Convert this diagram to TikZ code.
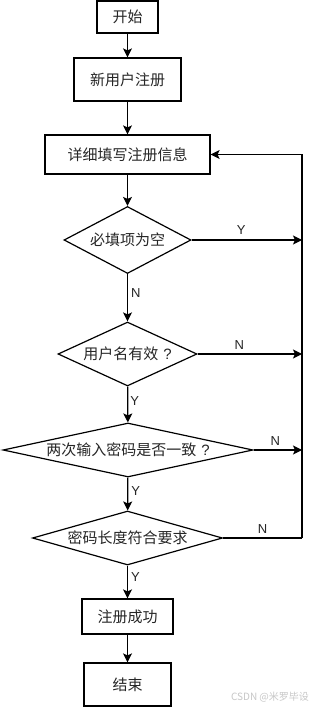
\documentclass[tikz,border=0pt]{standalone}
\usepackage{fontspec}
\newfontfamily\cjk{Noto Sans CJK SC}
\newfontfamily\lat{Liberation Sans}
\usetikzlibrary{shapes.geometric,arrows.meta}
\tikzset{
  proc/.style={draw, line width=1.2pt, rectangle, inner sep=0pt, font=\cjk\fontsize{15}{15}\selectfont, text=black!85},
  decide/.style={draw, line width=1.2pt, diamond, inner sep=0pt, font=\cjk\fontsize{15}{15}\selectfont, text=black!85},
  flow/.style={line width=1.2pt, -{Stealth[length=9pt,width=9pt,inset=2pt]}},
  plain/.style={line width=1.2pt},
  lbl/.style={font=\lat\fontsize{13}{13}\selectfont, inner sep=0pt, text=black!85}
}
\begin{document}
\begin{tikzpicture}[x=1pt,y=-1pt]
\useasboundingbox (0,0) rectangle (311,708);
\fill[white] (0,0) rectangle (311,708);
\node[proc, minimum width=61pt, minimum height=32pt] (start) at (127.5,17) {开始};
\node[proc, minimum width=107pt, minimum height=43pt] (reg) at (127.5,79.5) {新用户注册};
\node[proc, minimum width=165pt, minimum height=39pt] (fill) at (127.5,154.5) {详细填写注册信息};
\node[decide, minimum width=127pt, minimum height=67pt, aspect=1.9] (d1) at (127.5,240) {必填项为空};
\node[decide, minimum width=139pt, minimum height=64pt, aspect=2.17] (d2) at (127.5,354) {用户名有效\hspace{5pt}{\lat ?}};
\node[decide, minimum width=250pt, minimum height=54pt, aspect=4.6] (d3) at (128,450) {两次输入密码是否一致\hspace{5pt}{\lat ?}};
\node[decide, minimum width=190pt, minimum height=54pt, aspect=3.5] (d4) at (127.5,538) {密码长度符合要求};
\node[proc, minimum width=91pt, minimum height=35pt] (ok) at (127.5,616.5) {注册成功};
\node[proc, minimum width=87pt, minimum height=43pt] (end) at (127.5,684.5) {结束};
\coordinate (r0) at (302,154.5);
\coordinate (r1) at (302,240);
\coordinate (r2) at (302,354);
\coordinate (r3) at (302,450);
\coordinate (r4) at (302,538);
\draw[flow] (start) -- (reg);
\draw[flow] (reg) -- (fill);
\draw[flow] (fill) -- (d1);
\draw[flow] (d1) -- node[lbl, right=3pt, pos=0.4] {N} (d2);
\draw[flow] (d2) -- node[lbl, right=2pt, pos=0.4] {Y} (d3);
\draw[flow] (d3) -- node[lbl, right=3pt, pos=0.4] {Y} (d4);
\draw[flow] (d4) -- node[lbl, right=3pt, pos=0.35] {Y} (ok);
\draw[flow] (ok) -- (end);
\draw[flow] (d1.east) -- node[lbl, above=5pt, pos=0.45] {Y} (r1);
\draw[flow] (d2.east) -- node[lbl, above=4pt, pos=0.4] {N} (r2);
\draw[flow] (d3.east) -- node[lbl, above=4pt, pos=0.45] {N} (r3);
\draw[plain] (d4.east) -- node[lbl, above=4pt, pos=0.5] {N} (r4);
\draw[plain] (r4) -- (r0);
\draw[flow] (r0) -- (fill.east);
\node[font=\cjk\fontsize{10}{10}\selectfont, text=black!22, inner sep=0pt] (wm) at (270,697) {CSDN @米罗毕设};
\end{tikzpicture}
\end{document}
